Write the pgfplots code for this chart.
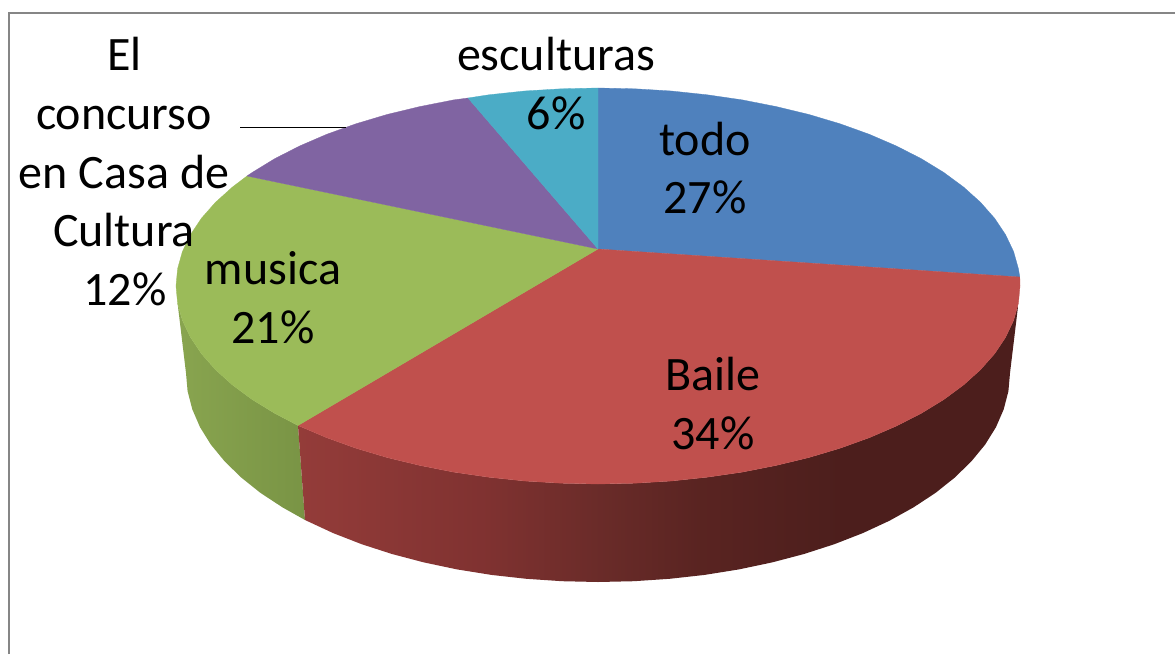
\documentclass[border=0pt]{standalone}
\usepackage{fontspec}
\setmainfont{Carlito}
\usepackage{pgfplots}
\pgfplotsset{compat=1.18}
\definecolor{cblue}{RGB}{79,129,189}
\definecolor{cred}{RGB}{192,80,77}
\definecolor{cgreen}{RGB}{155,187,89}
\definecolor{cpurple}{RGB}{128,100,162}
\definecolor{caqua}{RGB}{75,172,198}
\definecolor{cframe}{RGB}{134,134,134}
\pgfdeclarehorizontalshading{redwall}{100bp}{
 rgb(0bp)=(0.580,0.235,0.225);
 rgb(25bp)=(0.580,0.235,0.225);
 rgb(38bp)=(0.500,0.195,0.190);
 rgb(46bp)=(0.415,0.170,0.160);
 rgb(53bp)=(0.350,0.140,0.130);
 rgb(63bp)=(0.298,0.118,0.110);
 rgb(75bp)=(0.298,0.118,0.110);
 rgb(100bp)=(0.298,0.118,0.110)}
\pgfdeclarehorizontalshading{greenwall}{100bp}{
 rgb(0bp)=(0.535,0.645,0.310);
 rgb(25bp)=(0.535,0.645,0.310);
 rgb(75bp)=(0.475,0.580,0.270);
 rgb(100bp)=(0.475,0.580,0.270)}
\newcommand{\lab}[4]{\node[anchor=base,inner sep=0pt,text=black] at (axis cs:#1,#2) {\fontsize{#4}{58}\selectfont #3};}
\begin{document}
\begin{tikzpicture}
\begin{axis}[
  width=1175pt, height=654pt, scale only axis,
  xmin=0, xmax=1175, ymin=0, ymax=654, y dir=reverse,
  hide axis,
]
% page background and frame
\addplot[fill=white,draw=none] coordinates {(0,0)(1175,0)(1175,654)(0,654)(0,0)};
\addplot[draw=cframe,line width=2pt] coordinates {(9,654)(9,13)(1175,13)};

% side wall, green slice
\addplot[draw=none,shade,shading=greenwall] coordinates {
(298,425.5)(274.7,413.3)(252.3,399.6)(232.5,385)(215.5,369.7)(201.4,353.7)(190.4,337.2)(182.4,320.4)(177.6,303.3)
(186,373)(187.6,391.2)(192.3,409.3)(200,427.1)(210.8,444.5)(224.6,461.3)(241.2,477.5)(260.5,492.9)(282.4,507.3)(305,520)(298,425.5)};
% side wall, red slice
\addplot[draw=none,shade,shading=redwall] coordinates {
(298,425.5)(326.7,437.7)(355.9,448.2)(387,457.5)(419.7,465.4)(453.7,472.1)(488.8,477.2)(524.7,481)(561.2,483.2)(598,484)
(634.8,483.2)(671.3,481)(707.2,477.2)(742.3,472.1)(776.3,465.4)(809,457.5)(840.1,448.2)(869.3,437.7)(896.4,426)(921.3,413.3)
(943.7,399.6)(963.5,385)(980.5,369.7)(994.6,353.7)(1005.6,337.2)(1013.6,320.4)(1018.4,303.3)
(1010,373)(1008.4,391.2)(1003.7,409.3)(996,427.1)(985.2,444.5)(971.4,461.3)(954.8,477.5)(935.5,492.9)(913.6,507.3)(889.3,520.8)
(862.8,533.1)(834.3,544.2)(804,554)(772.1,562.4)(738.9,569.4)(704.6,574.9)(669.5,578.8)(633.9,581.2)(598,582)
(562.1,581.2)(526.5,578.8)(491.4,574.9)(457.1,569.4)(423.9,562.4)(392,554)(361.7,544.2)(333.2,533.1)(305,520)(298,425.5)};

% top faces
% todo 27%
\addplot[fill=cblue,draw=cblue,line width=0.3pt] coordinates {
(598,249)(1019.8,277)(1018.4,268.7)(1013.6,251.6)(1005.6,234.8)(994.6,218.3)(980.5,202.3)(963.5,187)(943.7,172.4)(921.3,158.7)
(896.4,146)(869.3,134.3)(840.1,123.8)(809,114.5)(776.3,106.6)(742.3,99.9)(707.2,94.8)(671.3,91)(634.8,88.8)(598,88)(598,249)};
% Baile 34%
\addplot[fill=cred,draw=cred,line width=0.3pt] coordinates {
(598,249)(1019.8,277)(1020,286)(1018.4,303.3)(1013.6,320.4)(1005.6,337.2)(994.6,353.7)(980.5,369.7)(963.5,385)(943.7,399.6)
(921.3,413.3)(896.4,426)(869.3,437.7)(840.1,448.2)(809,457.5)(776.3,465.4)(742.3,472.1)(707.2,477.2)(671.3,481)(634.8,483.2)
(598,484)(561.2,483.2)(524.7,481)(488.8,477.2)(453.7,472.1)(419.7,465.4)(387,457.5)(355.9,448.2)(326.7,437.7)(298,425.5)(598,249)};
% musica 21%
\addplot[fill=cgreen,draw=cgreen,line width=0.3pt] coordinates {
(598,249)(298,425.5)(274.7,413.3)(252.3,399.6)(232.5,385)(215.5,369.7)(201.4,353.7)(190.4,337.2)(182.4,320.4)(177.6,303.3)
(176,286)(177.6,268.7)(182.4,251.6)(190.4,234.8)(201.4,218.3)(215.5,202.3)(232.5,187)(247,176)(598,249)};
% El concurso en Casa de Cultura 12%
\addplot[fill=cpurple,draw=cpurple,line width=0.3pt] coordinates {
(598,249)(247,176)(252.3,172.4)(274.7,158.7)(299.6,146)(326.7,134.3)(355.9,123.8)(387,114.5)(419.7,106.6)(453.7,99.9)(468,98)(598,249)};
% esculturas 6%
\addplot[fill=caqua,draw=caqua,line width=0.3pt] coordinates {
(598,249)(468,98)(488.8,94.8)(524.7,91)(561.2,88.8)(598,88)(598,249)};

% leader line
\addplot[draw=black,line width=1.4pt] coordinates {(240,127.5)(346,127.5)};

\lab{124.5}{70}{El}{48}
\lab{124}{129}{concurso}{48}
\lab{124}{188}{en Casa de}{48}
\lab{124}{246}{Cultura}{48}
\lab{125}{305}{12\%}{48}
\lab{556}{70}{esculturas}{48}
\lab{556}{129}{6\%}{48}
\lab{705}{155}{todo}{48}
\lab{705}{213}{27\%}{48}
\lab{273}{284.5}{musica}{48}
\lab{273}{343}{21\%}{48}
\lab{713}{390}{Baile}{48}
\lab{713}{449}{34\%}{48}
\end{axis}
\end{tikzpicture}
\end{document}
